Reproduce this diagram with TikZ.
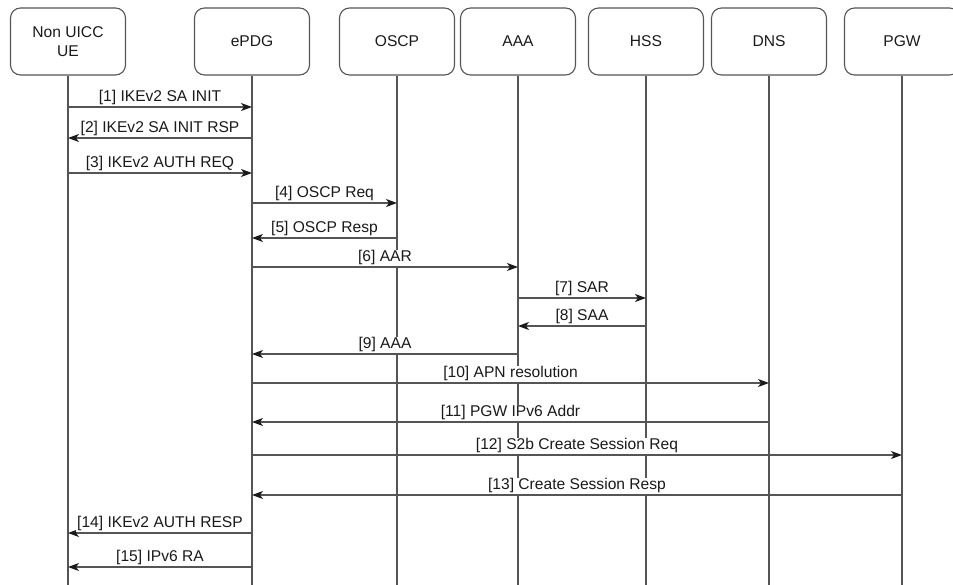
\documentclass[tikz,border=0pt]{standalone}
\usepackage{fontspec}
\setmainfont{Liberation Sans}
\usetikzlibrary{arrows.meta}
\definecolor{linegray}{HTML}{555555}
\definecolor{txt}{HTML}{1A1A1A}
\definecolor{tipc}{HTML}{1A1A1A}
\tikzset{
  actor/.style={draw=linegray, line width=1.1pt, rounded corners=10pt,
    minimum width=115pt, minimum height=67pt, align=center,
    font=\fontsize{15.6}{19}\selectfont, text=txt, inner sep=0pt},
  life/.style={draw=linegray, line width=1.1pt},
  msg/.style={draw=linegray, line width=1.1pt,
    -{Stealth[length=11pt, width=8pt, inset=3pt, color=tipc]}},
  lbl/.style={fill=white, inner sep=0.8pt, text=txt,
    font=\fontsize{15.6}{19}\selectfont, above=0.6pt}
}
\begin{document}
\begin{tikzpicture}[x=1pt, y=-1pt]
\useasboundingbox (0,0) rectangle (953,584);
\clip (0,0) rectangle (953,584);
% actors
\node[actor] (ue)   at (68,41.5)  {Non UICC\\UE};
\node[actor] (epdg) at (252,41.5) {ePDG};
\node[actor] (oscp) at (397,41.5) {OSCP};
\node[actor] (aaa)  at (518,41.5) {AAA};
\node[actor] (hss)  at (646,41.5) {HSS};
\node[actor] (dns)  at (769,41.5) {DNS};
\node[actor] (pgw)  at (902,41.5) {PGW};
% lifeline ends
\coordinate (ueE)   at (68,590);
\coordinate (epdgE) at (252,590);
\coordinate (oscpE) at (397,590);
\coordinate (aaaE)  at (518,590);
\coordinate (hssE)  at (646,590);
\coordinate (dnsE)  at (769,590);
\coordinate (pgwE)  at (902,590);
\foreach \a in {ue,epdg,oscp,aaa,hss,dns,pgw}{
  \draw[life] (\a.south) -- (\a E);
}
% messages
\draw[msg] (ue |- 0,107) -- node[lbl]{[1] IKEv2 SA INIT} (epdg |- 0,107);
\draw[msg] (epdg |- 0,138) -- node[lbl]{[2] IKEv2 SA INIT RSP} (ue |- 0,138);
\draw[msg] (ue |- 0,173) -- node[lbl]{[3] IKEv2 AUTH REQ} (epdg |- 0,173);
\draw[msg] (epdg |- 0,203) -- node[lbl]{[4] OSCP Req} (oscp |- 0,203);
\draw[msg] (oscp |- 0,238) -- node[lbl]{[5] OSCP Resp} (epdg |- 0,238);
\draw[msg] (epdg |- 0,267) -- node[lbl]{[6] AAR} (aaa |- 0,267);
\draw[msg] (aaa |- 0,298) -- node[lbl]{[7] SAR} (hss |- 0,298);
\draw[msg] (hss |- 0,326) -- node[lbl]{[8] SAA} (aaa |- 0,326);
\draw[msg] (aaa |- 0,354) -- node[lbl]{[9] AAA} (epdg |- 0,354);
\draw[msg] (epdg |- 0,383) -- node[lbl]{[10] APN resolution} (dns |- 0,383);
\draw[msg] (dns |- 0,422) -- node[lbl]{[11] PGW IPv6 Addr} (epdg |- 0,422);
\draw[msg] (epdg |- 0,455) -- node[lbl]{[12] S2b Create Session Req} (pgw |- 0,455);
\draw[msg] (pgw |- 0,495) -- node[lbl]{[13] Create Session Resp} (epdg |- 0,495);
\draw[msg] (epdg |- 0,533) -- node[lbl]{[14] IKEv2 AUTH RESP} (ue |- 0,533);
\draw[msg] (epdg |- 0,567) -- node[lbl]{[15] IPv6 RA} (ue |- 0,567);
\end{tikzpicture}
\end{document}
